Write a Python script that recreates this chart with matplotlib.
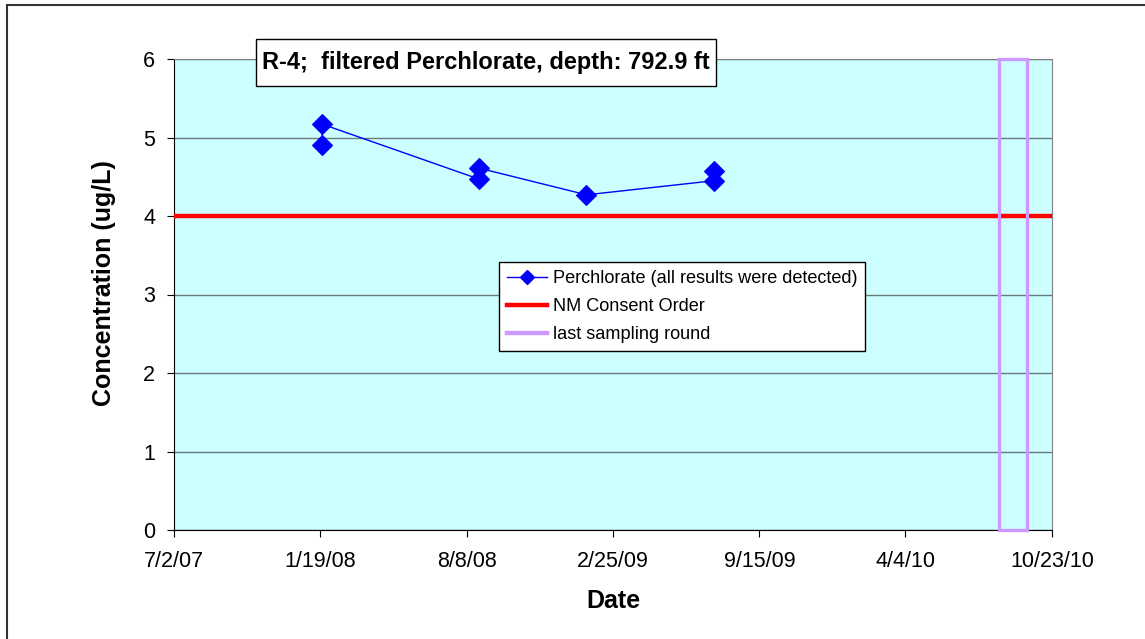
import matplotlib
matplotlib.use('Agg')
import matplotlib.pyplot as plt
import pandas as pd
from matplotlib.patches import Rectangle
from matplotlib.lines import Line2D

plt.rcParams['font.family'] = ['Liberation Sans', 'DejaVu Sans']

# sample dates and perchlorate results (ug/L)
sample_dates = ['2008-01-22', '2008-01-22', '2008-08-25', '2008-08-25',
                '2009-01-20', '2009-07-15', '2009-07-15']
perchlorate = [4.91, 5.17, 4.47, 4.61, 4.27, 4.45, 4.57]

consent_level = 4.0          # NM Consent Order standard
last_round_date = '2010-08-30'
last_round_days = 38         # width of the highlight box, days
last_round_top = 6.0

x_tick_labels = ['7/2/07', '1/19/08', '8/8/08', '2/25/09', '9/15/09', '4/4/10', '10/23/10']
y_ticks = [0, 1, 2, 3, 4, 5, 6]

title = 'R-4;  filtered Perchlorate, depth: 792.9 ft'

dates = pd.to_datetime(sample_dates)
x_ticks = pd.to_datetime(x_tick_labels, format='%m/%d/%y')

W, H = 1145, 639
fig = plt.figure(figsize=(W / 100, H / 100), dpi=100)
ax = fig.add_axes([174 / W, 1 - 530 / H, 878 / W, 471 / H])
ax.set_facecolor('#CCFFFF')

ax.plot(dates, perchlorate, color='#0000FF', lw=1, marker='D', ms=10,
        mec='#0000FF', mfc='#0000FF', mew=0.8, zorder=4)
ax.axhline(consent_level, color='#FF0000', lw=3.2, zorder=3)

lr = pd.to_datetime([last_round_date])
ax.bar(lr, [last_round_top], width=last_round_days, bottom=0, fill=False,
       edgecolor='#CC99FF', lw=2.4, zorder=5, clip_on=False)

ax.set_xlim(x_ticks[0], x_ticks[-1])
ax.set_ylim(0, 6)
ax.set_xticks(x_ticks)
ax.set_xticklabels(x_tick_labels)
ax.set_yticks(y_ticks)
ax.set_yticklabels([str(v) for v in y_ticks])
ax.tick_params(axis='both', direction='out', length=5, width=0.8,
               labelsize=15.5, colors='black')
ax.tick_params(axis='y', pad=8.5)
ax.tick_params(axis='x', pad=10)

ax.grid(axis='y', color='#6a7a7a', lw=1)
ax.set_axisbelow(True)
for s in ['top', 'right']:
    ax.spines[s].set_color('#808080')
for s in ['left', 'bottom']:
    ax.spines[s].set_color('black')

ax.set_xlabel('Date', fontsize=18, fontweight='bold')
ax.set_ylabel('Concentration (ug/L)', fontsize=18, fontweight='bold')
ax.xaxis.label.set_va('center')
ax.yaxis.label.set_va('center')
ax.xaxis.set_label_coords(0.5, -0.151)
ax.yaxis.set_label_coords(-0.0797, 0.525)

handles = [
    Line2D([], [], color='#0000FF', lw=1, marker='D', ms=7, mfc='#0000FF', mec='#0000FF'),
    Line2D([], [], color='#FF0000', lw=3.2),
    Line2D([], [], color='#CC99FF', lw=3.2),
]
labels = ['Perchlorate (all results were detected)', 'NM Consent Order', 'last sampling round']
leg = ax.legend(handles, labels, loc='upper left', bbox_to_anchor=(0.37, 0.569),
                borderaxespad=0, fontsize=13.1, frameon=True, fancybox=False,
                framealpha=1, edgecolor='black', borderpad=0.45, handlelength=2.2,
                handletextpad=0.3, labelspacing=0.6)
leg.get_frame().set_linewidth(1)
leg.set_zorder(10)

# title box
fig.patches.append(Rectangle((256 / W, 1 - 86 / H), 460 / W, 47 / H,
                             transform=fig.transFigure, facecolor='white',
                             edgecolor='black', lw=1, zorder=5))
fig.text(486 / W, 1 - 62.5 / H, title, ha='center', va='center',
         fontsize=17, fontweight='bold', zorder=6)

# outer chart border
fig.patches.append(Rectangle((7 / W, -0.1), 1.2, 1.1 - 5 / H,
                             transform=fig.transFigure, fill=False,
                             edgecolor='#333333', lw=1.5, zorder=1))

fig.savefig('out.png', dpi=100)
